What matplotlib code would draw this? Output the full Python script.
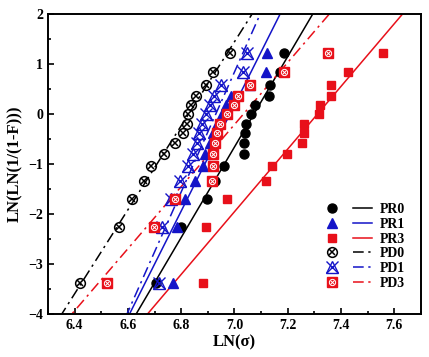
import numpy as np
import matplotlib
matplotlib.use("Agg")
import matplotlib.pyplot as plt
from matplotlib.lines import Line2D
from matplotlib.legend_handler import HandlerTuple
from matplotlib.ticker import MultipleLocator

plt.rcParams['font.family'] = ['Liberation Serif', 'DejaVu Serif']
plt.rcParams['font.weight'] = 'bold'

# Weibull plot: shared y levels, ln(ln(1/(1-F)))
ln_ln = [-3.38, -2.25, -1.70, -1.33, -1.03, -0.79, -0.57, -0.37, -0.19, 0.00, 0.17, 0.36, 0.57, 0.83, 1.22]

# ln(sigma) per series
pr0 = [6.705, 6.799, 6.896, 6.928, 6.962, 7.037, 7.037, 7.038, 7.043, 7.063, 7.078, 7.128, 7.135, 7.172, 7.187]
pr1 = [6.771, 6.784, 6.813, 6.852, 6.882, 6.890, 6.909, 6.919, 6.936, 6.955, 6.969, 6.987, 7.059, 7.120, 7.124]
pr3 = [6.882, 6.895, 6.972, 7.120, 7.141, 7.197, 7.254, 7.260, 7.262, 7.316, 7.320, 7.363, 7.363, 7.427, 7.558]
pd0 = [6.420, 6.568, 6.615, 6.660, 6.688, 6.735, 6.777, 6.806, 6.822, 6.827, 6.836, 6.856, 6.894, 6.919, 6.982]
pd1 = [6.715, 6.727, 6.763, 6.796, 6.825, 6.846, 6.858, 6.868, 6.880, 6.895, 6.910, 6.925, 6.950, 7.032, 7.047]
pd3 = [6.521, 6.698, 6.775, 6.915, 6.918, 6.921, 6.928, 6.934, 6.947, 6.972, 6.997, 7.012, 7.059, 7.187, 7.350]

labels = ['PR0', 'PR1', 'PR3', 'PD0', 'PD1', 'PD3']

# Weibull fit lines as drawn in the chart: modulus m and ln(sigma0) where the line crosses 0
weibull_m = [9.04, 10.60, 6.26, 8.39, 11.98, 6.20]
ln_sigma0 = [7.073, 6.983, 7.312, 6.828, 6.930, 7.034]

fig = plt.figure(figsize=(4.29, 3.57), dpi=100)
ax = fig.add_axes([0.112, 0.120, 0.869, 0.841])

y = np.array(ln_ln)
xs = np.array([6.3, 7.7])
dashdot = (0, (7, 3, 1.5, 3))

black = 'black'
blue = '#1414c8'
red = '#e8101a'


def fit_line(i, color, ls):
    ax.plot(xs, weibull_m[i] * (xs - ln_sigma0[i]), color=color, lw=1.1, ls=ls, zorder=2)
    return Line2D([], [], color=color, lw=1.1, ls=ls)


handles = []

# PR0
ax.plot(pr0, y, 'o', color=black, ms=6.5, ls='none', zorder=3)
l = fit_line(0, black, '-')
handles.append((Line2D([], [], marker='o', color=black, ms=6.5, ls='none'), l))

# PR1
ax.plot(pr1, y, '^', color=blue, ms=7.5, ls='none', zorder=3)
l = fit_line(1, blue, '-')
handles.append((Line2D([], [], marker='^', color=blue, ms=7.5, ls='none'), l))

# PR3
ax.plot(pr3, y, 's', color=red, ms=6, ls='none', zorder=3)
l = fit_line(2, red, '-')
handles.append((Line2D([], [], marker='s', color=red, ms=6, ls='none'), l))

# PD0 crossed circle
ax.plot(pd0, y, 'o', mfc='none', mec=black, mew=1.1, ms=7, ls='none', zorder=3)
ax.plot(pd0, y, 'x', color=black, mew=1.1, ms=5, ls='none', zorder=3)
l = fit_line(3, black, dashdot)
m1 = Line2D([], [], marker='o', mfc='none', mec=black, mew=1.1, ms=7, ls='none')
m2 = Line2D([], [], marker='x', color=black, mew=1.1, ms=5, ls='none')
handles.append(((m1, m2), l))

# PD1 crossed triangle
ax.plot(pd1, y, '^', mfc='none', mec=blue, mew=1.0, ms=9, ls='none', zorder=3)
ax.plot(pd1, y, 'x', color=blue, mew=1.0, ms=9, ls='none', zorder=3)
l = fit_line(4, blue, dashdot)
m1 = Line2D([], [], marker='^', mfc='none', mec=blue, mew=1.0, ms=9, ls='none')
m2 = Line2D([], [], marker='x', color=blue, mew=1.0, ms=9, ls='none')
handles.append(((m1, m2), l))

# PD3 red square with white crossed circle
ax.plot(pd3, y, 's', color=red, ms=7, ls='none', zorder=3)
ax.plot(pd3, y, 'o', mfc='none', mec='white', mew=0.7, ms=4.5, ls='none', zorder=3)
ax.plot(pd3, y, 'x', color='white', mew=0.7, ms=3.2, ls='none', zorder=3)
l = fit_line(5, red, dashdot)
m1 = Line2D([], [], marker='s', color=red, ms=7, ls='none')
m2 = Line2D([], [], marker='o', mfc='none', mec='white', mew=0.7, ms=4.5, ls='none')
m3 = Line2D([], [], marker='x', color='white', mew=0.7, ms=3.2, ls='none')
handles.append(((m1, m2, m3), l))

ax.set_xlim(6.3, 7.7)
ax.set_ylim(-4, 2)
ax.xaxis.set_major_locator(MultipleLocator(0.2))
ax.xaxis.set_minor_locator(MultipleLocator(0.1))
ax.yaxis.set_major_locator(MultipleLocator(1))
ax.yaxis.set_minor_locator(MultipleLocator(0.5))
ax.tick_params(which='both', direction='in', top=False, right=False, labelsize=10, width=1.2)
ax.tick_params(which='major', length=4)
ax.tick_params(which='minor', length=2.5)
for s in ax.spines.values():
    s.set_linewidth(1.4)

ax.set_xlabel('LN(σ)', fontsize=12, fontweight='bold', labelpad=2)
ax.set_ylabel('LN(LN(1/(1-F)))', fontsize=12, fontweight='bold', labelpad=4)

# outer tuples: marker then line side by side; inner tuples stay overlaid
hmap = {h: HandlerTuple(ndivide=None, pad=0.8) for h in handles}
ax.legend(handles, labels, handler_map=hmap,
          loc='lower right', bbox_to_anchor=(0.99, 0.04), frameon=False,
          fontsize=10, handlelength=3.6, labelspacing=0.12, handletextpad=0.5)

fig.savefig('out.png', dpi=100, facecolor='white')
